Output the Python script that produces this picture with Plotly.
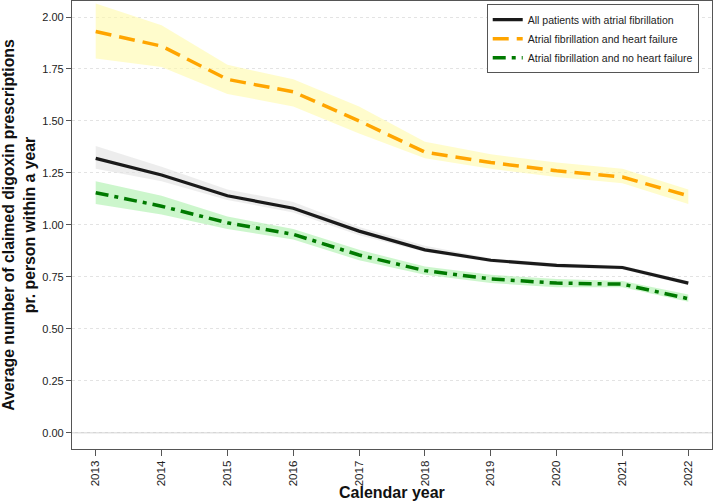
import plotly.graph_objects as go

# calendar years and the average number of digoxin prescriptions per person
years = [2013, 2014, 2015, 2016, 2017, 2018, 2019, 2020, 2021, 2022]

all_af = [1.32, 1.24, 1.14, 1.08, 0.97, 0.88, 0.83, 0.805, 0.795, 0.72]
all_af_lo = [1.27, 1.21, 1.12, 1.06, 0.95, 0.87, 0.82, 0.795, 0.785, 0.71]
all_af_hi = [1.38, 1.28, 1.17, 1.11, 0.99, 0.90, 0.84, 0.815, 0.805, 0.73]

af_hf = [1.93, 1.86, 1.70, 1.64, 1.50, 1.35, 1.30, 1.26, 1.23, 1.14]
af_hf_lo = [1.80, 1.76, 1.63, 1.57, 1.44, 1.32, 1.27, 1.23, 1.20, 1.10]
af_hf_hi = [2.065, 1.96, 1.77, 1.70, 1.57, 1.40, 1.34, 1.30, 1.27, 1.17]

af_nohf = [1.155, 1.09, 1.01, 0.955, 0.855, 0.78, 0.74, 0.72, 0.715, 0.645]
af_nohf_lo = [1.10, 1.05, 0.98, 0.93, 0.83, 0.76, 0.72, 0.70, 0.70, 0.63]
af_nohf_hi = [1.21, 1.14, 1.04, 0.98, 0.88, 0.80, 0.76, 0.74, 0.73, 0.665]

y_ticks = [0, 0.25, 0.5, 0.75, 1.0, 1.25, 1.5, 1.75, 2.0]
y_labels = ["0.00", "0.25", "0.50", "0.75", "1.00", "1.25", "1.50", "1.75", "2.00"]

fig = go.Figure()


def add_band(lo, hi, color):
    fig.add_trace(go.Scatter(x=years + years[::-1], y=hi + lo[::-1], fill="toself",
                             fillcolor=color, line=dict(width=0), mode="lines",
                             showlegend=False, hoverinfo="skip"))


# confidence bands first, lines on top
add_band(af_hf_lo, af_hf_hi, "rgba(255,250,170,0.6)")
add_band(all_af_lo, all_af_hi, "rgba(225,225,225,0.6)")
add_band(af_nohf_lo, af_nohf_hi, "rgba(170,240,170,0.6)")

fig.add_trace(go.Scatter(x=years, y=all_af, mode="lines", name="All patients with atrial fibrillation",
                         line=dict(color="#1a1a1a", width=3.2)))
fig.add_trace(go.Scatter(x=years, y=af_hf, mode="lines", name="Atrial fibrillation and heart failure",
                         line=dict(color="#FFA500", width=3.5, dash="16px,8px")))
fig.add_trace(go.Scatter(x=years, y=af_nohf, mode="lines", name="Atrial fibrillation and no heart failure",
                         line=dict(color="#007A00", width=3.5, dash="13px,6px,4px,6px")))

# solid light line at zero
fig.add_hline(y=0, line=dict(color="#c8c8c8", width=1), layer="below")

# x axis title placed under the rotated tick labels
fig.add_annotation(text="<b>Calendar year</b>", x=0.5, y=0, xref="paper", yref="paper",
                   yanchor="middle", yshift=-43, showarrow=False,
                   font=dict(size=16, color="#111111"))

fig.update_layout(
    width=714, height=502,
    margin=dict(l=72, r=2, t=1, b=53),
    paper_bgcolor="white", plot_bgcolor="white",
    font=dict(family="Liberation Sans, Arial", color="#222222", size=11),
    legend=dict(x=0.648, y=0.993, xanchor="left", yanchor="top",
                bordercolor="#555555", borderwidth=1, bgcolor="white",
                font=dict(size=10.5, color="#222222"), tracegroupgap=0,
                itemwidth=30),
    xaxis=dict(range=[2012.64, 2022.36], tickmode="array", tickvals=years,
               ticktext=[str(y) for y in years], tickangle=-90,
               tickfont=dict(size=11.5),
               ticks="outside", ticklen=6, tickcolor="#555555",
               showline=True, linecolor="#555555", linewidth=1.2, mirror=True,
               showgrid=False, zeroline=False, automargin=False),
    yaxis=dict(range=[-0.078, 2.077], tickmode="array", tickvals=y_ticks, ticktext=y_labels,
               ticks="outside", ticklen=5, tickcolor="#555555",
               showline=True, linecolor="#555555", linewidth=1.2, mirror=True,
               showgrid=True, gridcolor="#e3e3e3", griddash="dot", gridwidth=1,
               zeroline=False, automargin=False,
               title=dict(text="<b>Average number of claimed digoxin prescriptions<br>pr. person within a year</b>",
                          font=dict(size=15.8, color="#111111"), standoff=6)),
)

fig.write_html("out.html", config={"displayModeBar": False},
               post_script="document.body.style.margin='0';")
